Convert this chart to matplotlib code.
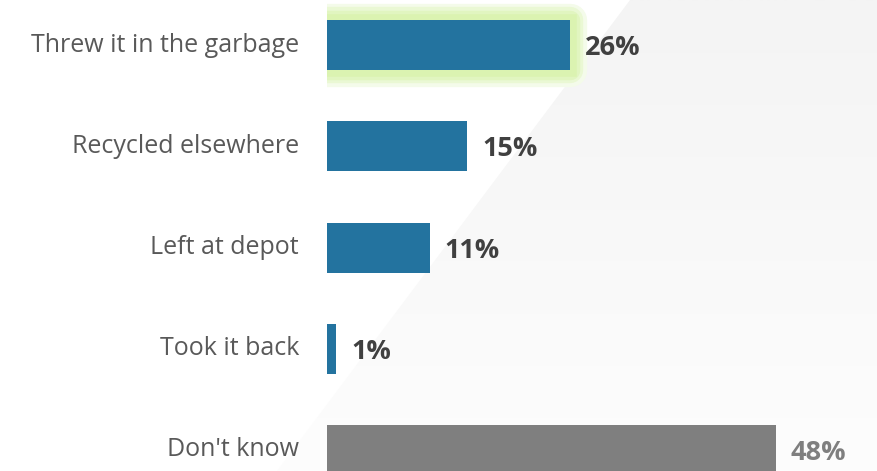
import matplotlib
matplotlib.use("Agg")
import matplotlib.pyplot as plt
import matplotlib.patheffects as pe
import numpy as np
from matplotlib.colors import LinearSegmentedColormap
from matplotlib.patches import Polygon

plt.rcParams['font.family'] = ['Open Sans', 'DejaVu Sans']

categories = ["Threw it in the garbage", "Recycled elsewhere", "Left at depot",
              "Took it back", "Don't know"]
values = [26, 15, 11, 1, 48]
bar_colors = ["#23739f", "#23739f", "#23739f", "#23739f", "#7f7f7f"]
value_colors = ["#404040", "#404040", "#404040", "#404040", "#7f7f7f"]

W, H = 877, 471
fig = plt.figure(figsize=(W / 100, H / 100), dpi=100)

# faint diagonal panel behind the chart
bg = fig.add_axes([0, 0, 1, 1])
bg.set_xlim(0, W)
bg.set_ylim(H, 0)
bg.axis("off")
grad = np.linspace(0, 1, 256).reshape(-1, 1)
panel_cmap = LinearSegmentedColormap.from_list("panel", ["#f4f4f4", "#fdfdfd"])
img = bg.imshow(grad, extent=[0, W, H, 0], cmap=panel_cmap, aspect="auto", zorder=0)
panel = Polygon([(630, 0), (W, 0), (W, H), (277, H)], closed=True, transform=bg.transData)
img.set_clip_path(panel)

# bar axes
left_px = 327
px_per_unit = 9.35
ax = fig.add_axes([left_px / W, 0, (W - left_px) / W, 1])
ax.patch.set_alpha(0)
ax.set_xlim(0, (W - left_px) / px_per_unit)
step = 101.25
ax.set_ylim(4 + (H - 450) / step, -45 / step)

ypos = np.arange(len(values))
bars = ax.barh(ypos, values, height=50 / step, color=bar_colors, zorder=3)

# soft green glow around the first bar
bars[0].set_path_effects([
    pe.Stroke(linewidth=24, foreground="#f4fbea", joinstyle="round"),
    pe.Stroke(linewidth=19, foreground="#eaf8d4", joinstyle="round"),
    pe.Stroke(linewidth=14, foreground="#e1f5c0", joinstyle="round"),
    pe.Stroke(linewidth=9, foreground="#dbf3b1", joinstyle="miter"),
    pe.Normal(),
])

for y, v, c in zip(ypos, values, value_colors):
    ax.text(v + 15 / px_per_unit, y + 0.03, f"{v}%", va="center", ha="left",
            fontsize=19.5, fontweight="bold", color=c)

for y, label in zip(ypos, categories):
    ax.text(-28 / px_per_unit, y, label, va="center", ha="right",
            fontsize=18, color="#595959", clip_on=False)

ax.axis("off")
fig.savefig("out.png", dpi=100)
